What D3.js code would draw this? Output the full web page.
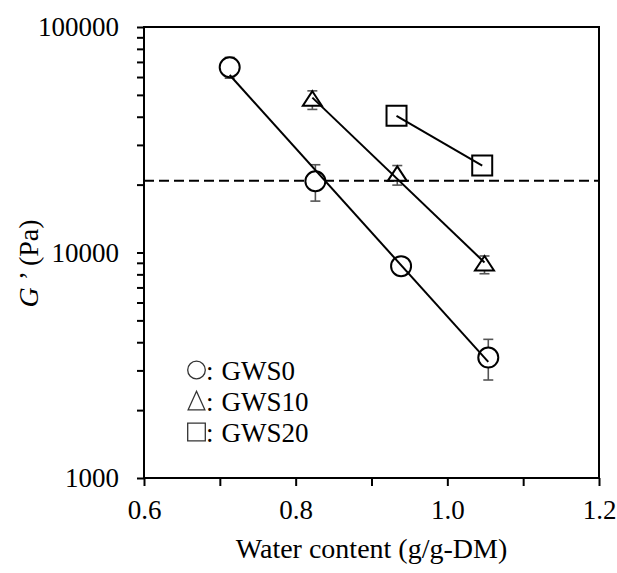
<!DOCTYPE html>
<html>
<head>
<meta charset="utf-8">
<script src="https://cdn.jsdelivr.net/npm/d3@7"></script>
<style>
    body { margin: 0; background: #fff; }
    svg text { font-family: "Liberation Serif", "Times New Roman", Times, "DejaVu Serif", serif; }
</style>
</head>
<body>
<div id="chart"></div>
<script>
// plot area inside the 617x573 page
const MARGIN = { top: 27, right: 18, bottom: 95, left: 144 };
const WIDTH = 617 - MARGIN.left - MARGIN.right;
const HEIGHT = 573 - MARGIN.top - MARGIN.bottom;
const FONT = '"Liberation Serif", "Times New Roman", Times, "DejaVu Serif", serif';

// data: water content (g/g-DM), G' (Pa), error (Pa)
const gws0X = [0.713, 0.826, 0.939, 1.054];
const gws0Y = [66300, 20700, 8700, 3420];
const gws0Err = [7000, 3800, 500, 700];

const gws10X = [0.822, 0.934, 1.049];
const gws10Y = [47600, 22100, 8850];
const gws10Err = [4500, 2200, 800];

const gws20X = [0.933, 1.046];
const gws20Y = [40400, 24300];
const gws20Err = [2000, 1200];

const seriesNames = ['GWS0', 'GWS10', 'GWS20'];
const seriesShapes = ['circle', 'triangle', 'square'];
const referenceLevel = 20800;

const xTickValues = [0.6, 0.7, 0.8, 0.9, 1.0, 1.1, 1.2];
const xTickLabels = ['0.6', '', '0.8', '', '1.0', '', '1.2'];
const yTickValues = [1000, 2000, 3000, 4000, 5000, 6000, 7000, 8000, 9000,
    10000, 20000, 30000, 40000, 50000, 60000, 70000, 80000, 90000, 100000];
const yTickLabels = { 1000: '1000', 10000: '10000', 100000: '100000' };

const series = [
    { xs: gws0X, ys: gws0Y, err: gws0Err },
    { xs: gws10X, ys: gws10Y, err: gws10Err },
    { xs: gws20X, ys: gws20Y, err: gws20Err },
].map((s, i) => ({
    name: seriesNames[i],
    shape: seriesShapes[i],
    points: s.xs.map((x, j) => ({ x: x, y: s.ys[j], e: s.err[j] })),
}));

const svg = d3.select('#chart')
    .append('svg')
        .attr('width', 617)
        .attr('height', 573)
        .style('font-family', FONT)
    .append('g')
        .attr('transform', 'translate(' + MARGIN.left + ',' + MARGIN.top + ')');

const x = d3.scaleLinear().domain([0.6, 1.2]).range([0, WIDTH]);
const y = d3.scaleLog().domain([1000, 100000]).range([HEIGHT, 0]);

// axes
const xAxis = d3.axisBottom(x)
    .tickValues(xTickValues)
    .tickFormat((d, i) => xTickLabels[i])
    .tickSize(8)
    .tickPadding(14)
    .tickSizeOuter(0);

const yAxis = d3.axisLeft(y)
    .tickValues(yTickValues)
    .tickFormat(d => yTickLabels[d] || '')
    .tickSize(7)
    .tickPadding(18)
    .tickSizeOuter(0);

const gx = svg.append('g')
    .attr('transform', 'translate(0,' + HEIGHT + ')')
    .call(xAxis);
const gy = svg.append('g').call(yAxis);

[gx, gy].forEach(g => {
    g.attr('font-family', null).attr('font-size', null);
    g.select('.domain').remove();
    g.selectAll('line').attr('stroke', '#000').attr('stroke-width', 2);
    g.selectAll('text')
        .attr('fill', '#000')
        .attr('font-size', 27)
        .style('font-family', FONT);
});

// frame
svg.append('rect')
    .attr('width', WIDTH)
    .attr('height', HEIGHT)
    .attr('fill', 'none')
    .attr('stroke', '#000')
    .attr('stroke-width', 2);

// axis titles
svg.append('text')
    .text('Water content (g/g-DM)')
    .attr('text-anchor', 'middle')
    .attr('font-size', 28)
    .attr('x', WIDTH / 2)
    .attr('y', HEIGHT + 80);

const yTitle = svg.append('text')
    .attr('transform', 'translate(' + (-106) + ',' + (HEIGHT / 2 + 11) + ') rotate(-90)')
    .attr('text-anchor', 'middle')
    .attr('font-size', 28);
yTitle.append('tspan').attr('font-style', 'italic').text('G');
yTitle.append('tspan').text(' \u2019 (Pa)');

// reference dashed line
svg.append('line')
    .attr('x1', 0)
    .attr('x2', WIDTH)
    .attr('y1', y(referenceLevel))
    .attr('y2', y(referenceLevel))
    .attr('stroke', '#000')
    .attr('stroke-width', 2)
    .attr('stroke-dasharray', '10,5');

// marker paths
function markerPath(shape, size, tall) {
    if (shape === 'circle') {
        return d3.symbol(d3.symbolCircle, Math.PI * size * size)();
    }
    if (shape === 'square') {
        return 'M' + (-size) + ',' + (-size) + 'h' + (2 * size) + 'v' + (2 * size) +
            'h' + (-2 * size) + 'Z';
    }
    const w = size * 0.95;
    const h = tall ? size * 1.1 : size * 0.85;
    const b = tall ? size * 1.0 : size * 0.6;
    return 'M0,' + (-h) + 'L' + w + ',' + b + 'L' + (-w) + ',' + b + 'Z';
}

// error bars
const capW = 5;
series.forEach(s => {
    const g = svg.append('g')
        .attr('stroke', '#555')
        .attr('stroke-width', 1.6);
    s.points.forEach(p => {
        const px = x(p.x);
        const top = y(p.y + p.e);
        const bot = y(p.y - p.e);
        g.append('line').attr('x1', px).attr('x2', px).attr('y1', top).attr('y2', bot);
        g.append('line').attr('x1', px - capW).attr('x2', px + capW).attr('y1', top).attr('y2', top);
        g.append('line').attr('x1', px - capW).attr('x2', px + capW).attr('y1', bot).attr('y2', bot);
    });
});

// markers
series.forEach(s => {
    svg.append('g')
        .selectAll('path')
        .data(s.points)
        .join('path')
            .attr('transform', d => 'translate(' + x(d.x) + ',' + y(d.y) + ')')
            .attr('d', markerPath(s.shape, 10))
            .attr('fill', '#fff')
            .attr('stroke', '#000')
            .attr('stroke-width', 2);
});

// fitted lines (least squares of log G' against water content)
function fit(points) {
    const mx = d3.mean(points, p => p.x);
    const my = d3.mean(points, p => Math.log10(p.y));
    let sxy = 0, sxx = 0;
    points.forEach(p => {
        sxy += (p.x - mx) * (Math.log10(p.y) - my);
        sxx += (p.x - mx) * (p.x - mx);
    });
    const slope = sxy / sxx;
    const xs = d3.extent(points, p => p.x);
    return xs.map(v => ({ x: v, y: Math.pow(10, my + slope * (v - mx)) }));
}

series.forEach(s => {
    svg.append('path')
        .datum(fit(s.points))
        .attr('fill', 'none')
        .attr('stroke', '#000')
        .attr('stroke-width', 2)
        .attr('d', d3.line().x(d => x(d.x)).y(d => y(d.y)));
});

// legend
const legend = svg.append('g').attr('transform', 'translate(52.5,343)');
series.forEach((s, i) => {
    const row = legend.append('g').attr('transform', 'translate(0,' + (i * 31) + ')');
    row.append('path')
        .attr('d', markerPath(s.shape, 8.8, true))
        .attr('fill', 'none')
        .attr('stroke', '#333')
        .attr('stroke-width', 1.3);
    const t = row.append('text')
        .attr('x', 9.5)
        .attr('y', 10)
        .attr('font-size', 27);
    t.append('tspan').text(':');
    t.append('tspan').attr('dx', 8).text(s.name);
});
</script>
</body>
</html>
